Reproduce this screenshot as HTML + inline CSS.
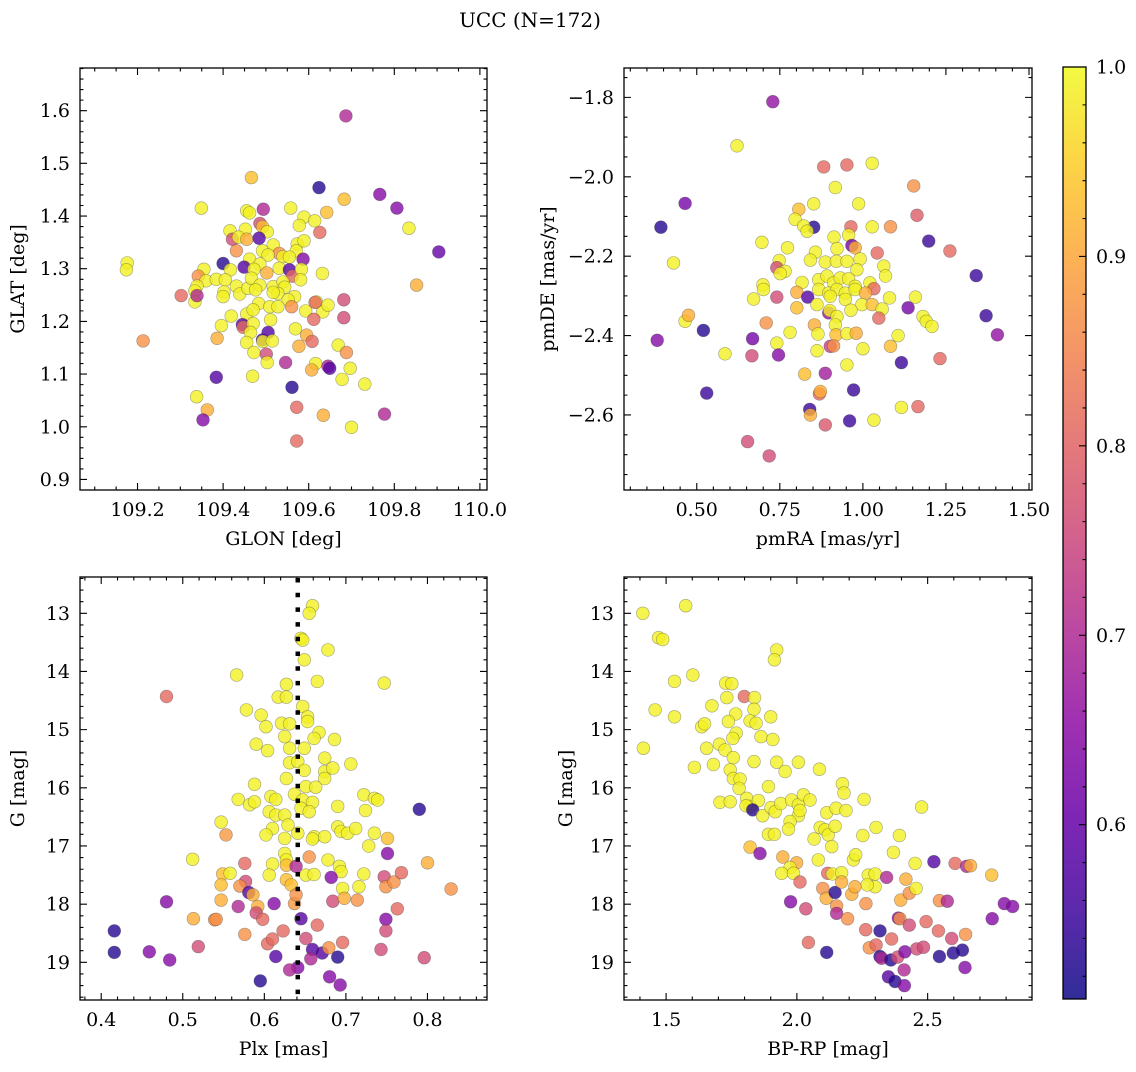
<!DOCTYPE html>
<html><head><meta charset="utf-8">
<style>
html,body{margin:0;padding:0;background:#fff;}
svg text{font-family:"DejaVu Serif","Liberation Serif",serif;fill:#000;}
</style></head>
<body>
<svg id="fig" width="1136" height="1067" viewBox="0 0 1136 1067" xmlns="http://www.w3.org/2000/svg">
<defs>
<linearGradient id="plasma" x1="0" y1="1" x2="0" y2="0">
<stop offset="0" stop-color="#0d0887"/><stop offset="0.1" stop-color="#41049d"/><stop offset="0.2" stop-color="#6a00a8"/><stop offset="0.3" stop-color="#8f0da4"/><stop offset="0.4" stop-color="#b12a90"/><stop offset="0.5" stop-color="#cc4778"/><stop offset="0.6" stop-color="#e16462"/><stop offset="0.7" stop-color="#f2844b"/><stop offset="0.8" stop-color="#fca636"/><stop offset="0.9" stop-color="#fcce25"/><stop offset="1" stop-color="#f0f921"/>
</linearGradient>
</defs>
<text x="530" y="27" font-size="20" text-anchor="middle">UCC (N=172)</text>
</svg>
<script>
// ---- data: panel 1 (GLON, GLAT, probability)
const glon=[109.466,109.624,109.683,109.766,109.349,109.455,109.462,109.494,109.558,109.589,109.614,109.642,109.578,109.626,109.486,109.492,109.503,109.416,109.452,109.422,109.436,109.455,109.484,109.431,109.517,109.573,109.589,109.531,109.492,109.505,109.540,109.571,109.587,109.555,109.462,109.486,109.400,109.449,109.472,109.502,109.531,109.555,109.562,109.583,109.581,109.632,109.355,109.417,109.176,109.174,109.342,109.360,109.339,109.334,109.384,109.405,109.431,109.402,109.439,109.458,109.466,109.486,109.476,109.517,109.540,109.544,109.528,109.517,109.567,109.552,109.560,109.400,109.334,109.302,109.339,109.419,109.455,109.483,109.470,109.509,109.528,109.511,109.593,109.618,109.633,109.645,109.612,109.682,109.682,109.396,109.445,109.447,109.470,109.464,109.505,109.492,109.455,109.493,109.515,109.386,109.569,109.595,109.608,109.577,109.472,109.501,109.503,109.546,109.213,109.669,109.688,109.616,109.607,109.645,109.649,109.697,109.678,109.731,109.384,109.469,109.561,109.338,109.363,109.353,109.572,109.634,109.700,109.572,109.687,109.806,109.904,109.834,109.852,109.777,109.615];
const glat=[1.473,1.454,1.432,1.441,1.415,1.410,1.406,1.413,1.415,1.398,1.391,1.407,1.382,1.369,1.386,1.380,1.370,1.372,1.375,1.356,1.360,1.356,1.358,1.334,1.345,1.347,1.353,1.329,1.334,1.326,1.323,1.334,1.318,1.322,1.318,1.309,1.310,1.303,1.299,1.292,1.301,1.298,1.286,1.299,1.279,1.291,1.299,1.298,1.311,1.298,1.286,1.277,1.267,1.258,1.280,1.279,1.267,1.256,1.252,1.263,1.282,1.269,1.260,1.266,1.275,1.265,1.253,1.255,1.247,1.241,1.228,1.247,1.237,1.249,1.249,1.210,1.214,1.234,1.222,1.228,1.228,1.203,1.220,1.237,1.218,1.231,1.204,1.241,1.207,1.192,1.194,1.189,1.196,1.179,1.179,1.165,1.160,1.162,1.163,1.168,1.186,1.174,1.162,1.153,1.141,1.138,1.122,1.122,1.163,1.155,1.141,1.120,1.108,1.115,1.111,1.111,1.090,1.081,1.094,1.096,1.075,1.057,1.032,1.013,1.037,1.022,0.999,0.973,1.590,1.415,1.332,1.377,1.269,1.024,1.236];
const prob1=[0.93,0.53,0.93,0.64,0.99,0.99,0.99,0.70,0.99,0.99,0.99,0.93,0.99,0.81,0.76,0.93,0.99,0.99,0.99,0.76,0.99,0.91,0.58,0.87,0.99,0.99,0.99,0.87,0.99,0.99,0.99,0.99,0.64,0.99,0.99,0.99,0.53,0.58,0.99,0.91,0.99,0.58,0.81,0.99,0.99,0.99,0.99,0.99,0.99,0.99,0.87,0.99,0.99,0.99,0.99,0.99,0.99,0.99,0.99,0.99,0.99,0.99,0.99,0.99,0.99,0.99,0.99,0.99,0.99,0.99,0.87,0.99,0.99,0.81,0.70,0.99,0.99,0.99,0.99,0.99,0.99,0.99,0.99,0.99,0.99,0.99,0.81,0.76,0.76,0.99,0.58,0.81,0.99,0.99,0.58,0.58,0.99,0.99,0.99,0.91,0.99,0.91,0.81,0.91,0.99,0.76,0.99,0.70,0.87,0.99,0.87,0.99,0.91,0.70,0.58,0.99,0.99,0.99,0.58,0.99,0.53,0.99,0.91,0.64,0.81,0.91,0.99,0.81,0.70,0.64,0.60,0.99,0.91,0.70,0.81];
// ---- data: panel 2 (pmRA, pmDE, probability)
const pmra=[0.729,0.621,0.882,0.952,1.028,0.917,1.153,0.465,0.852,0.987,0.807,1.163,0.392,0.796,0.852,0.822,0.832,0.964,1.028,1.083,1.198,0.696,0.773,0.913,0.957,0.967,0.977,0.922,0.857,1.043,1.262,0.430,0.748,0.741,0.766,0.751,0.842,0.887,0.920,0.952,0.992,0.982,1.063,1.068,1.341,0.699,0.701,0.817,0.867,0.892,0.912,0.932,0.957,0.977,1.021,1.033,0.867,0.897,0.922,0.947,0.977,0.801,0.671,0.741,0.834,0.862,0.902,0.947,1.008,0.997,1.080,1.158,0.801,1.028,0.897,0.900,0.964,1.058,0.922,1.048,1.136,1.181,1.191,1.208,1.371,0.465,0.475,0.709,0.854,0.917,0.781,0.865,0.919,0.952,0.980,0.520,0.381,0.668,0.741,0.902,0.912,1.000,1.083,1.106,1.405,0.585,0.666,0.746,0.862,1.232,0.952,1.116,0.825,0.887,0.530,0.869,0.872,0.972,0.840,0.842,1.116,1.166,0.887,0.960,1.033,0.653,0.718];
const pmde=[-1.811,-1.922,-1.975,-1.970,-1.966,-2.027,-2.023,-2.067,-2.068,-2.068,-2.082,-2.097,-2.127,-2.107,-2.127,-2.124,-2.137,-2.126,-2.126,-2.126,-2.162,-2.165,-2.179,-2.152,-2.147,-2.173,-2.179,-2.181,-2.190,-2.192,-2.187,-2.217,-2.211,-2.229,-2.238,-2.244,-2.210,-2.215,-2.213,-2.213,-2.207,-2.234,-2.225,-2.250,-2.249,-2.272,-2.284,-2.266,-2.259,-2.250,-2.267,-2.255,-2.257,-2.276,-2.267,-2.282,-2.284,-2.293,-2.284,-2.293,-2.284,-2.291,-2.308,-2.303,-2.303,-2.322,-2.301,-2.309,-2.293,-2.322,-2.305,-2.303,-2.330,-2.322,-2.343,-2.337,-2.336,-2.333,-2.352,-2.356,-2.330,-2.352,-2.364,-2.377,-2.350,-2.364,-2.349,-2.368,-2.373,-2.373,-2.392,-2.396,-2.398,-2.395,-2.394,-2.387,-2.412,-2.408,-2.419,-2.427,-2.426,-2.433,-2.427,-2.400,-2.398,-2.446,-2.451,-2.449,-2.438,-2.458,-2.474,-2.468,-2.497,-2.495,-2.545,-2.547,-2.541,-2.537,-2.586,-2.600,-2.581,-2.579,-2.625,-2.615,-2.613,-2.667,-2.703];
const prob2=[0.66,0.99,0.81,0.81,0.99,0.99,0.87,0.62,0.99,0.99,0.93,0.79,0.53,0.99,0.53,0.99,0.99,0.81,0.99,0.87,0.55,0.99,0.99,0.99,0.99,0.62,0.91,0.99,0.99,0.81,0.81,0.99,0.99,0.76,0.99,0.99,0.99,0.99,0.99,0.99,0.99,0.99,0.99,0.99,0.55,0.99,0.99,0.99,0.99,0.99,0.99,0.99,0.99,0.99,0.99,0.81,0.99,0.99,0.99,0.99,0.99,0.91,0.99,0.76,0.58,0.99,0.99,0.99,0.91,0.99,0.99,0.99,0.93,0.93,0.66,0.99,0.99,0.99,0.99,0.81,0.62,0.99,0.99,0.99,0.55,0.99,0.91,0.87,0.91,0.99,0.99,0.99,0.93,0.99,0.91,0.53,0.64,0.62,0.99,0.74,0.87,0.99,0.93,0.99,0.66,0.99,0.76,0.64,0.99,0.81,0.99,0.55,0.93,0.68,0.55,0.81,0.91,0.55,0.55,0.91,0.99,0.81,0.78,0.55,0.99,0.76,0.76];
// ---- data: panel 3 (Plx, G, probability)
const plx=[0.659,0.655,0.645,0.647,0.678,0.649,0.566,0.665,0.747,0.480,0.627,0.617,0.627,0.647,0.578,0.596,0.653,0.653,0.621,0.631,0.602,0.667,0.661,0.686,0.590,0.604,0.625,0.631,0.649,0.631,0.641,0.674,0.706,0.649,0.674,0.684,0.627,0.674,0.588,0.651,0.663,0.568,0.582,0.588,0.608,0.614,0.637,0.647,0.659,0.645,0.655,0.606,0.614,0.625,0.690,0.722,0.735,0.739,0.724,0.547,0.610,0.629,0.602,0.625,0.641,0.661,0.659,0.674,0.690,0.694,0.702,0.712,0.735,0.751,0.553,0.728,0.790,0.512,0.625,0.627,0.610,0.627,0.655,0.678,0.692,0.722,0.800,0.576,0.751,0.549,0.558,0.547,0.606,0.627,0.633,0.651,0.661,0.694,0.682,0.639,0.696,0.716,0.747,0.749,0.759,0.768,0.829,0.577,0.570,0.581,0.586,0.547,0.592,0.480,0.568,0.612,0.637,0.639,0.684,0.698,0.714,0.763,0.513,0.539,0.541,0.590,0.598,0.645,0.749,0.416,0.576,0.623,0.665,0.749,0.519,0.604,0.610,0.651,0.659,0.671,0.679,0.696,0.743,0.416,0.459,0.484,0.614,0.657,0.690,0.796,0.641,0.631,0.595,0.680,0.693];
const gmag3=[12.87,13.00,13.43,13.46,13.63,13.80,14.06,14.17,14.20,14.43,14.22,14.44,14.44,14.60,14.66,14.75,14.78,14.86,14.89,14.90,14.95,15.05,15.15,15.17,15.25,15.36,15.12,15.32,15.32,15.57,15.55,15.49,15.59,15.70,15.72,15.66,15.84,15.84,15.94,15.98,15.99,16.20,16.29,16.24,16.15,16.20,16.11,16.21,16.25,16.35,16.41,16.41,16.47,16.47,16.32,16.12,16.18,16.21,16.39,16.59,16.70,16.64,16.81,16.87,16.78,16.84,16.88,16.84,16.67,16.75,16.78,16.70,16.78,16.87,16.81,17.00,16.37,17.23,17.13,17.24,17.31,17.33,17.19,17.24,17.35,17.48,17.29,17.30,17.13,17.48,17.47,17.67,17.50,17.58,17.67,17.50,17.49,17.44,17.54,17.35,17.73,17.70,17.53,17.70,17.62,17.46,17.74,17.61,17.69,17.80,17.84,17.93,18.04,17.96,18.04,17.99,17.99,17.84,17.95,17.90,17.93,18.08,18.25,18.27,18.26,18.15,18.26,18.25,18.26,18.46,18.52,18.46,18.36,18.46,18.73,18.68,18.60,18.59,18.78,18.84,18.75,18.66,18.78,18.83,18.82,18.96,18.90,18.94,18.91,18.92,19.09,19.13,19.32,19.25,19.39];
const prob3=[0.99,0.99,0.99,0.99,0.99,0.99,0.99,0.99,0.99,0.81,0.99,0.99,0.99,0.99,0.99,0.99,0.99,0.99,0.99,0.99,0.99,0.99,0.99,0.99,0.99,0.99,0.99,0.99,0.99,0.99,0.99,0.99,0.99,0.99,0.99,0.99,0.99,0.99,0.99,0.99,0.99,0.99,0.99,0.99,0.99,0.99,0.99,0.99,0.99,0.99,0.99,0.99,0.99,0.99,0.99,0.99,0.99,0.99,0.99,0.99,0.99,0.99,0.99,0.99,0.99,0.99,0.99,0.99,0.99,0.99,0.99,0.99,0.99,0.93,0.88,0.99,0.53,0.99,0.99,0.99,0.99,0.93,0.87,0.99,0.99,0.99,0.91,0.81,0.64,0.93,0.99,0.93,0.99,0.93,0.93,0.99,0.99,0.99,0.64,0.70,0.99,0.99,0.76,0.87,0.87,0.81,0.87,0.76,0.87,0.58,0.91,0.91,0.91,0.64,0.70,0.64,0.88,0.87,0.76,0.91,0.87,0.81,0.91,0.87,0.87,0.76,0.81,0.58,0.64,0.53,0.87,0.81,0.81,0.76,0.76,0.81,0.81,0.76,0.58,0.58,0.87,0.81,0.76,0.53,0.64,0.64,0.58,0.70,0.53,0.76,0.64,0.70,0.53,0.64,0.64];
// ---- data: panel 4 (BP-RP, G, probability)
const bprp=[1.411,1.575,1.471,1.487,1.923,1.914,1.602,1.532,1.728,1.751,1.799,1.732,1.838,1.836,1.458,1.675,1.532,1.766,1.900,1.738,1.821,1.844,1.636,1.647,1.768,1.755,1.863,1.908,1.413,1.655,1.704,1.725,1.757,1.836,1.923,1.955,2.006,2.086,1.608,1.681,1.745,1.757,1.783,1.779,1.891,2.174,2.180,1.706,1.745,1.808,1.821,1.853,1.806,1.831,1.869,1.901,1.917,1.938,1.980,2.006,2.025,2.050,2.006,2.012,1.974,1.968,2.114,2.150,2.188,2.257,2.477,1.891,1.914,2.089,2.108,2.120,2.146,2.066,2.133,2.252,2.303,2.392,1.821,1.859,2.082,2.216,2.225,2.369,1.946,1.999,1.974,1.942,1.987,2.118,2.136,2.171,2.273,2.299,2.299,2.269,2.343,2.417,2.452,2.524,2.605,2.649,2.664,2.745,2.012,2.099,2.112,2.146,2.171,2.210,2.222,2.152,2.152,2.194,1.976,2.034,2.264,2.397,2.430,2.456,2.545,2.575,2.793,2.825,2.747,2.388,2.394,2.430,2.494,2.541,2.592,2.645,2.263,2.318,2.362,2.044,2.114,2.277,2.303,2.318,2.324,2.359,2.385,2.413,2.458,2.484,2.545,2.598,2.633,2.643,2.350,2.375,2.411,2.410];
const gmag4=[13.00,12.87,13.42,13.45,13.63,13.80,14.06,14.17,14.20,14.21,14.43,14.45,14.45,14.65,14.66,14.59,14.78,14.73,14.78,14.86,14.85,14.89,14.95,14.90,15.06,15.15,15.12,15.17,15.32,15.32,15.25,15.35,15.48,15.55,15.56,15.72,15.56,15.68,15.65,15.60,15.69,15.84,15.85,16.01,15.98,15.93,16.09,16.25,16.24,16.18,16.32,16.22,16.31,16.38,16.48,16.34,16.41,16.27,16.21,16.29,16.12,16.21,16.48,16.39,16.58,16.71,16.43,16.35,16.39,16.20,16.33,16.80,16.80,16.68,16.72,16.81,16.66,16.88,17.01,16.82,16.68,16.82,17.02,17.13,17.24,17.24,17.15,17.11,17.19,17.29,17.37,17.47,17.47,17.47,17.48,17.46,17.50,17.48,17.70,17.67,17.54,17.57,17.30,17.27,17.30,17.35,17.34,17.50,17.62,17.73,17.90,17.80,17.62,17.83,17.70,18.03,18.16,18.25,17.96,18.08,17.99,17.93,17.81,17.73,17.94,17.95,17.99,18.04,18.25,18.24,18.25,18.36,18.30,18.46,18.59,18.52,18.44,18.46,18.60,18.66,18.83,18.75,18.70,18.90,18.93,18.96,18.91,18.82,18.77,18.74,18.90,18.84,18.79,19.09,19.25,19.33,19.40,19.13];
const prob4=[0.99,0.99,0.99,0.99,0.99,0.99,0.99,0.99,0.99,0.99,0.81,0.99,0.99,0.99,0.99,0.99,0.99,0.99,0.99,0.99,0.99,0.99,0.99,0.99,0.99,0.99,0.99,0.99,0.99,0.99,0.99,0.99,0.99,0.99,0.99,0.99,0.99,0.99,0.99,0.99,0.99,0.99,0.99,0.99,0.99,0.99,0.99,0.99,0.99,0.99,0.99,0.99,0.99,0.53,0.99,0.99,0.99,0.99,0.99,0.99,0.99,0.99,0.99,0.99,0.99,0.99,0.99,0.99,0.99,0.99,0.99,0.99,0.99,0.99,0.99,0.99,0.99,0.99,0.99,0.99,0.99,0.99,0.93,0.64,0.99,0.99,0.99,0.99,0.91,0.91,0.99,0.99,0.99,0.81,0.99,0.99,0.99,0.99,0.99,0.99,0.70,0.91,0.99,0.58,0.81,0.70,0.91,0.93,0.81,0.87,0.91,0.53,0.91,0.91,0.91,0.87,0.70,0.87,0.64,0.76,0.87,0.91,0.87,0.99,0.87,0.70,0.64,0.64,0.64,0.64,0.87,0.76,0.81,0.81,0.76,0.87,0.81,0.53,0.81,0.81,0.53,0.87,0.81,0.53,0.70,0.53,0.76,0.64,0.76,0.76,0.53,0.53,0.53,0.64,0.58,0.53,0.64,0.70];
// ---- tick labels
const p1xTicks=[109.2,109.4,109.6,109.8,110.0];
const p1yTicks=[0.9,1.0,1.1,1.2,1.3,1.4,1.5,1.6];
const p2xTicks=[0.50,0.75,1.00,1.25,1.50];
const p2yTicks=[-2.6,-2.4,-2.2,-2.0,-1.8];
const p3xTicks=[0.4,0.5,0.6,0.7,0.8];
const gTicks=[13,14,15,16,17,18,19];
const p4xTicks=[1.5,2.0,2.5];
const cbTicks=[0.6,0.7,0.8,0.9,1.0];
const plxLine=[0.641];
const cbRange=[0.508,1.0];

const NS="http://www.w3.org/2000/svg";
const svg=document.getElementById('fig');
const FS=19;
function mk(tag,attrs,parent){const e=document.createElementNS(NS,tag);for(const k in attrs)e.setAttribute(k,attrs[k]);(parent||svg).appendChild(e);return e;}
const stops=[[13,8,135],[65,4,157],[106,0,168],[143,13,164],[177,42,144],[204,71,120],[225,100,98],[242,132,75],[252,166,54],[252,206,37],[240,249,33]];
function plasma(p){let t=(p-cbRange[0])/(cbRange[1]-cbRange[0]);t=Math.max(0,Math.min(1,t))*10;const i=Math.min(9,Math.floor(t));const f=t-i;const a=stops[i],b=stops[i+1];return 'rgb('+[0,1,2].map(k=>Math.round(a[k]+(b[k]-a[k])*f)).join(',')+')';}
function fmt(v,d){const s=v.toFixed(d);return v<0?'\u2212'+s.slice(1):s;}

function panel(cfg){
  const g=mk('g',{});
  
  
  const L=cfg.L,R=cfg.R,T=cfg.T,B=cfg.B;
  const sx=v=>L+(v-cfg.x0)/(cfg.x1-cfg.x0)*(R-L);
  const sy=v=>cfg.inv? T+(v-cfg.y0)/(cfg.y1-cfg.y0)*(B-T) : B-(v-cfg.y0)/(cfg.y1-cfg.y0)*(B-T);
  const pg=mk('g',{},g);
  
  
  for(let i=0;i<cfg.xs.length;i++){
    const c=mk('circle',{cx:sx(cfg.xs[i]).toFixed(1),cy:sy(cfg.ys[i]).toFixed(1),r:6.4,fill:plasma(cfg.ps[i]),'fill-opacity':0.8,stroke:'rgba(60,60,60,0.45)','stroke-width':0.6},pg);
    
    
  }
  if(cfg.vline!==undefined){
    const ln=mk('line',{x1:sx(cfg.vline),x2:sx(cfg.vline),y1:T+1,y2:B,stroke:'#000','stroke-width':4.5,'stroke-dasharray':'4.5 10.2'},g);
    
    
  }
  const fr=mk('rect',{x:L,y:T,width:R-L,height:B-T,fill:'none',stroke:'#000','stroke-width':1.3},g);
  
  
  let path='';
  const eps=1e-9;
  const minor=(a0,a1,step)=>{const r=[];for(let v=Math.ceil(a0/step-eps)*step;v<=a1+eps;v+=step)r.push(v);return r;};
  minor(cfg.x0,cfg.x1,cfg.xmin).forEach(v=>{const x=sx(v);path+=`M${x} ${B}v-3.5M${x} ${T}v3.5`;});
  minor(Math.min(cfg.y0,cfg.y1),Math.max(cfg.y0,cfg.y1),cfg.ymin).forEach(v=>{const y=sy(v);path+=`M${L} ${y}h3.5M${R} ${y}h-3.5`;});
  cfg.xt.forEach(v=>{const x=sx(v);path+=`M${x} ${B}v-7M${x} ${T}v7`;});
  cfg.yt.forEach(v=>{const y=sy(v);path+=`M${L} ${y}h7M${R} ${y}h-7`;});
  const tk=mk('path',{d:path,stroke:'#000','stroke-width':1.1,fill:'none'},g);
  
  
  cfg.xt.forEach(v=>{const t=mk('text',{x:sx(v),y:B+26,'font-size':FS,'text-anchor':'middle'},g);t.textContent=fmt(v,cfg.xd);
    
    });
  cfg.yt.forEach(v=>{const t=mk('text',{x:L-10,y:sy(v)+6.5,'font-size':FS,'text-anchor':'end'},g);t.textContent=fmt(v,cfg.yd);
    
    });
  const xl=mk('text',{x:(L+R)/2,y:B+55,'font-size':FS,'text-anchor':'middle'},g);xl.textContent=cfg.xlab;
  
  
  const yx=cfg.ylx,yy=(T+B)/2;
  const yl=mk('text',{x:yx,y:yy,'font-size':FS,'text-anchor':'middle',transform:`rotate(-90 ${yx} ${yy})`},g);yl.textContent=cfg.ylab;
  
  
}

panel({name:'glon-glat-panel',L:80,R:487,T:68,B:490,x0:109.0656,x1:110.0166,y0:0.880,y1:1.681,xs:glon,ys:glat,ps:prob1,xt:p1xTicks,yt:p1yTicks,xmin:0.05,ymin:0.02,xd:1,yd:1,xlab:'GLON [deg]',ylab:'GLAT [deg]',ylx:24});
panel({name:'pm-panel',L:624,R:1032,T:68,B:490,x0:0.281,x1:1.509,y0:-2.789,y1:-1.726,xs:pmra,ys:pmde,ps:prob2,xt:p2xTicks,yt:p2yTicks,xmin:0.05,ymin:0.05,xd:2,yd:1,xlab:'pmRA [mas/yr]',ylab:'pmDE [mas/yr]',ylx:554});
panel({name:'plx-g-panel',L:80,R:487,T:577,B:1000,x0:0.374,x1:0.873,y0:12.376,y1:19.648,inv:true,xs:plx,ys:gmag3,ps:prob3,xt:p3xTicks,yt:gTicks,xmin:0.02,ymin:0.2,xd:1,yd:0,xlab:'Plx [mas]',ylab:'G [mag]',ylx:24,vline:plxLine[0]});
panel({name:'cmd-panel',L:624,R:1032,T:577,B:1000,x0:1.339,x1:2.899,y0:12.376,y1:19.648,inv:true,xs:bprp,ys:gmag4,ps:prob4,xt:p4xTicks,yt:gTicks,xmin:0.1,ymin:0.2,xd:1,yd:0,xlab:'BP-RP [mag]',ylab:'G [mag]',ylx:572});

(function(){
  const L=1063,R=1086,T=67,B=999;
  const g=mk('g',{});
  
  
  const r=mk('rect',{x:L,y:T,width:R-L,height:B-T,fill:'url(#plasma)','fill-opacity':0.85,stroke:'#000','stroke-width':1.3},g);
  
  
  const sy=v=>B-(v-cbRange[0])/(cbRange[1]-cbRange[0])*(B-T);
  let d='';
  for(let v=0.52;v<=1.0001;v+=0.02){d+=`M${R} ${sy(v)}h-3.5`;}
  cbTicks.forEach(v=>{d+=`M${R} ${sy(v)}h-7`;});
  const tk=mk('path',{d:d,stroke:'#000','stroke-width':1.1},g);
  
  
  cbTicks.forEach(v=>{const t=mk('text',{x:R+10,y:sy(v)+6.5,'font-size':FS},g);t.textContent=v.toFixed(1);
    
    });
})();
</script>
</body></html>
